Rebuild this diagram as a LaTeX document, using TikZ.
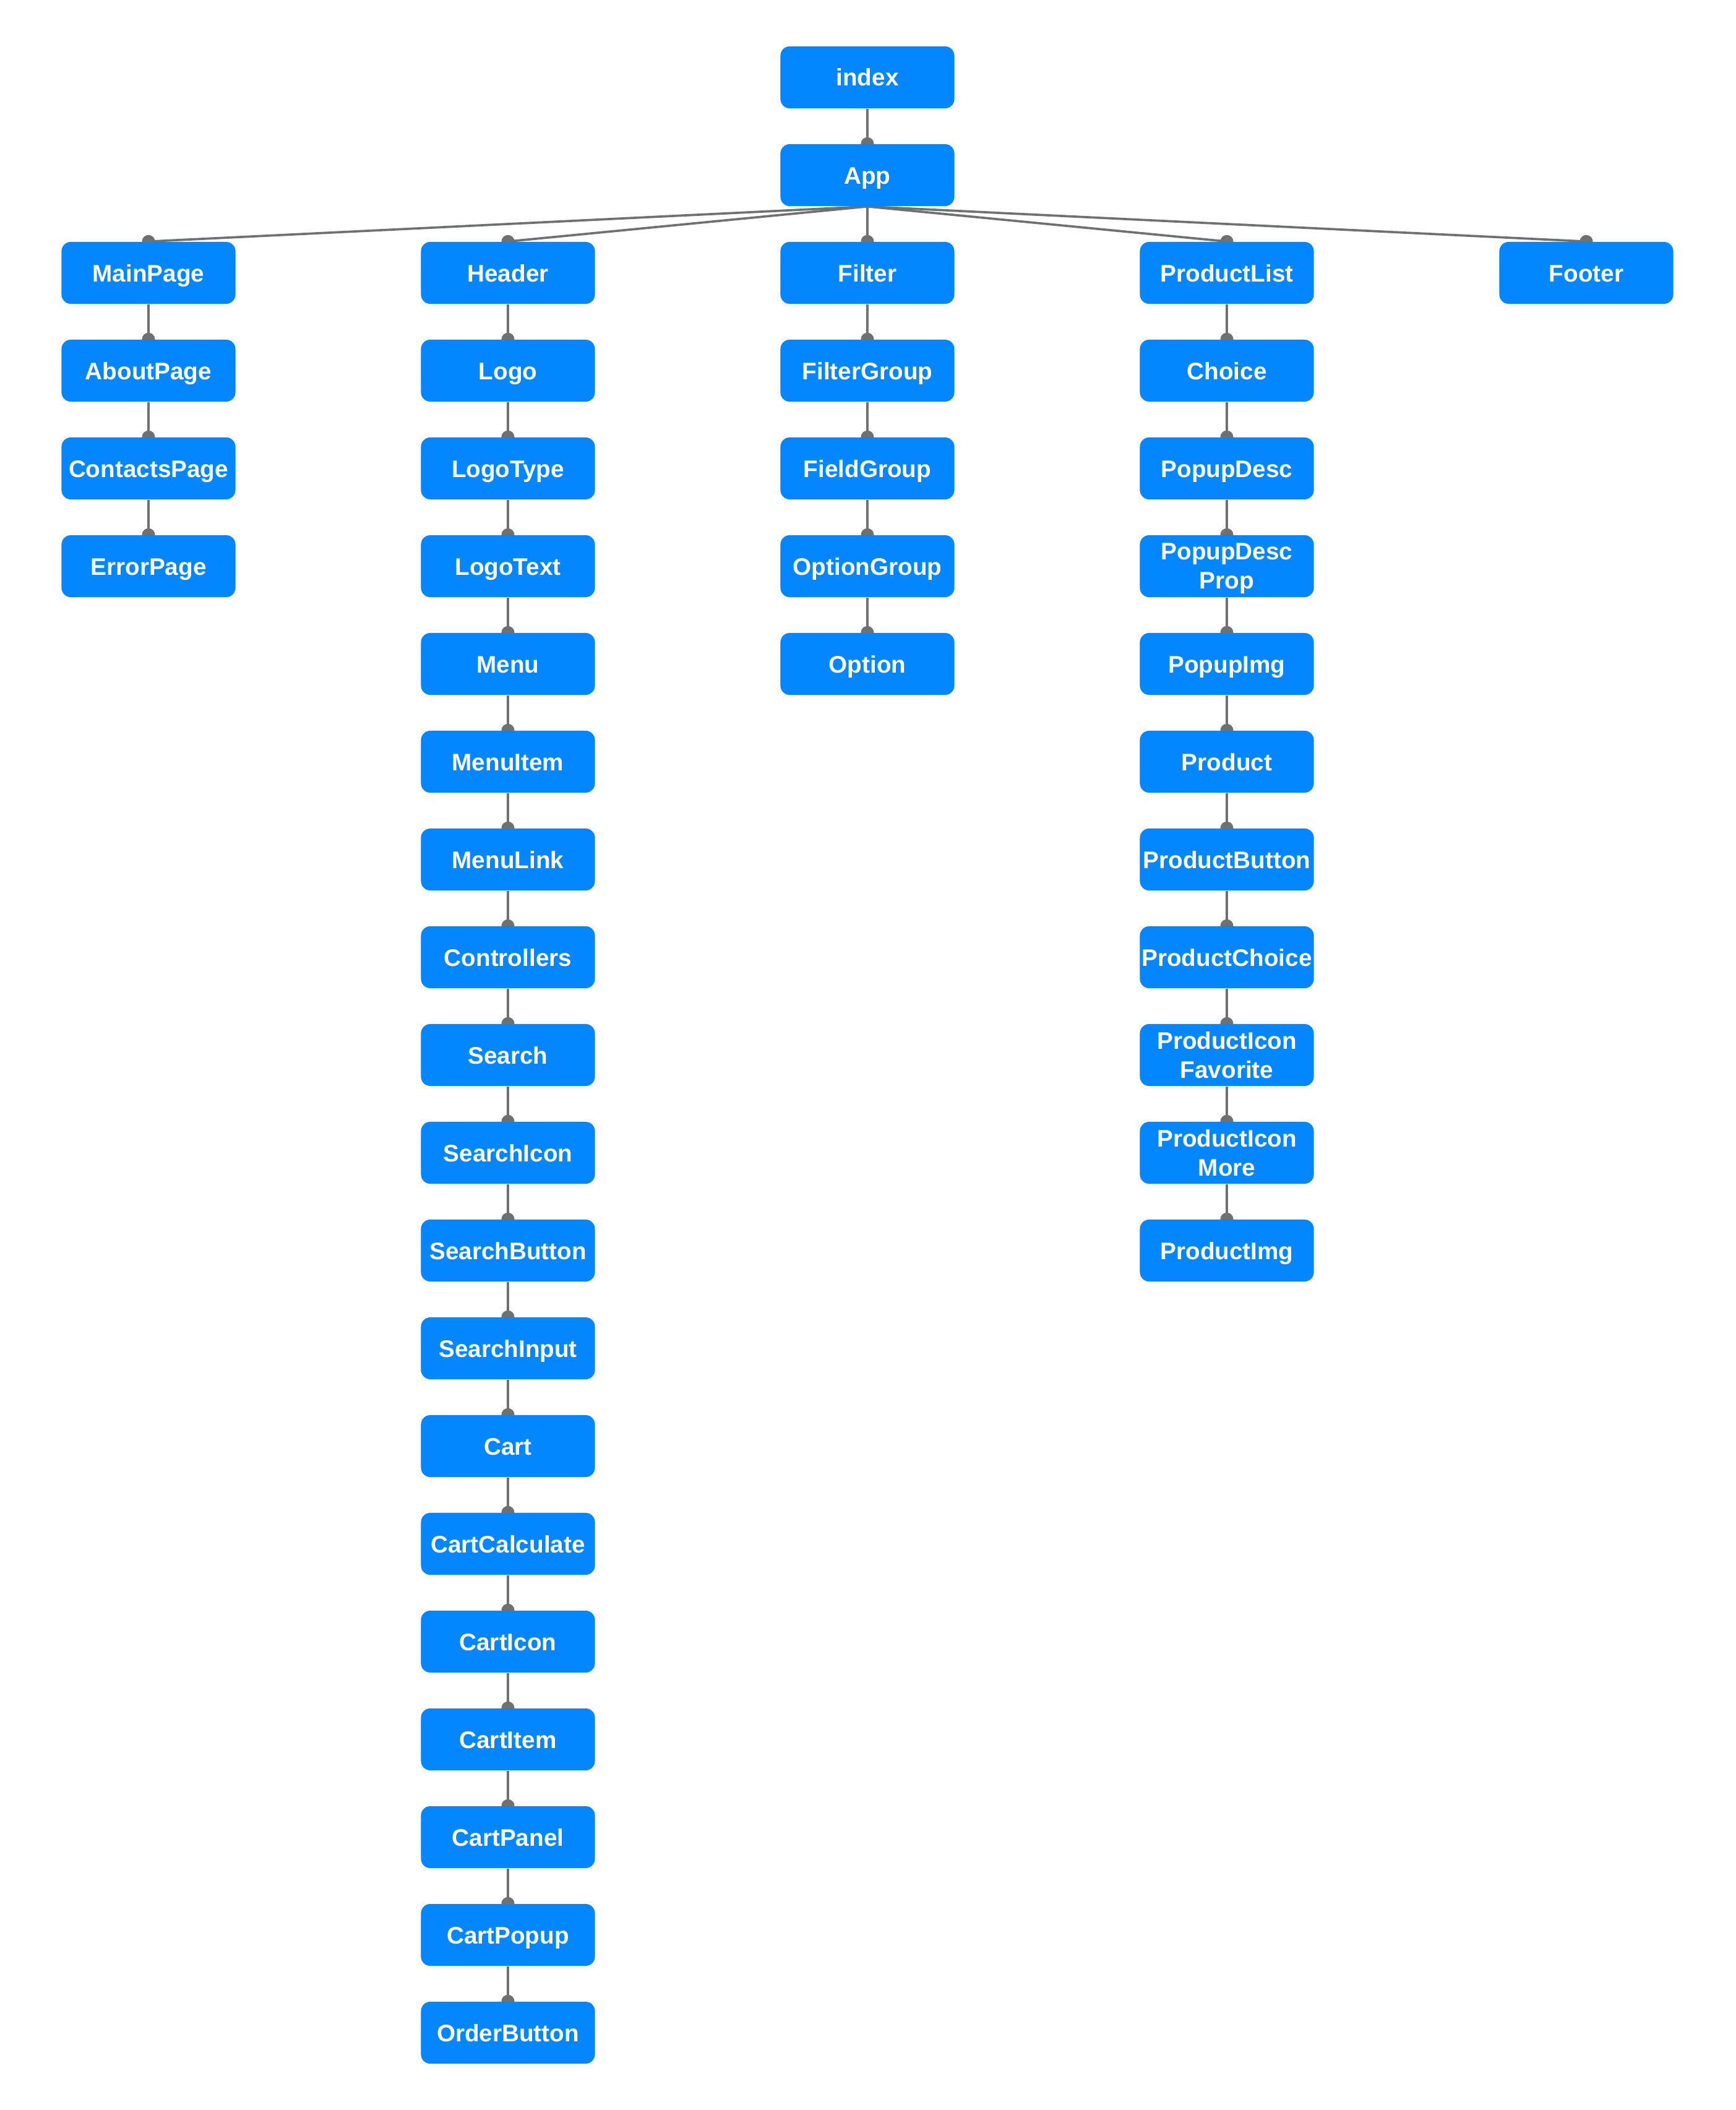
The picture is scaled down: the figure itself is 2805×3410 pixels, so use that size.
\documentclass[tikz,border=0pt]{standalone}
\usepackage{fontspec}
\setmainfont{Liberation Sans}
\usetikzlibrary{backgrounds}
\definecolor{boxblue}{RGB}{3,134,255}
\definecolor{linkgray}{RGB}{112,112,112}
\tikzset{
  comp/.style={fill=boxblue, text=white, rounded corners=0.15cm,
    minimum width=2.81cm, minimum height=1cm, inner sep=0pt, align=center,
    text height=0.28cm, text depth=0pt,
    font=\bfseries\fontsize{11}{13.4}\selectfont},
  comptwo/.style={comp, text height=, text depth=0pt},
  link/.style={draw=linkgray, line width=1.05pt},
}
% parent -> child connector with a round joint at the child's top edge
\newcommand\linkto[2]{%
  \begin{pgfonlayer}{background}
    \draw[link] (#1.south) -- (#2.north);
    \fill[linkgray] (#2.north) circle (0.105cm);
  \end{pgfonlayer}}
\begin{document}
\begin{tikzpicture}[x=0.01cm,y=-0.01cm]
\useasboundingbox (0,0) rectangle (2805,3410);

% root
\node[comp] (index) at (1402,125) {index};
\node[comp] (app)   at (1402,283) {App};

% pages column
\node[comp] (mainpage)     at (240,441) {MainPage};
\node[comp] (aboutpage)    at (240,599) {AboutPage};
\node[comp] (contactspage) at (240,757) {ContactsPage};
\node[comp] (errorpage)    at (240,915) {ErrorPage};

% header column
\node[comp] (header)        at (821,441)  {Header};
\node[comp] (logo)          at (821,599)  {Logo};
\node[comp] (logotype)      at (821,757)  {LogoType};
\node[comp] (logotext)      at (821,915)  {LogoText};
\node[comp] (menu)          at (821,1073) {Menu};
\node[comp] (menuitem)      at (821,1231) {MenuItem};
\node[comp] (menulink)      at (821,1389) {MenuLink};
\node[comp] (controllers)   at (821,1547) {Controllers};
\node[comp] (search)        at (821,1705) {Search};
\node[comp] (searchicon)    at (821,1863) {SearchIcon};
\node[comp] (searchbutton)  at (821,2021) {SearchButton};
\node[comp] (searchinput)   at (821,2179) {SearchInput};
\node[comp] (cart)          at (821,2337) {Cart};
\node[comp] (cartcalculate) at (821,2495) {CartCalculate};
\node[comp] (carticon)      at (821,2653) {CartIcon};
\node[comp] (cartitem)      at (821,2811) {CartItem};
\node[comp] (cartpanel)     at (821,2969) {CartPanel};
\node[comp] (cartpopup)     at (821,3127) {CartPopup};
\node[comp] (orderbutton)   at (821,3285) {OrderButton};

% filter column
\node[comp] (filter)      at (1402,441)  {Filter};
\node[comp] (filtergroup) at (1402,599)  {FilterGroup};
\node[comp] (fieldgroup)  at (1402,757)  {FieldGroup};
\node[comp] (optiongroup) at (1402,915)  {OptionGroup};
\node[comp] (option)      at (1402,1073) {Option};

% product list column
\node[comp] (productlist)   at (1983,441)  {ProductList};
\node[comp] (choice)        at (1983,599)  {Choice};
\node[comp] (popupdesc)     at (1983,757)  {PopupDesc};
\node[comptwo] (popupdescprop) at (1983,915)  {PopupDesc\\Prop};
\node[comp] (popupimg)      at (1983,1073) {PopupImg};
\node[comp] (product)       at (1983,1231) {Product};
\node[comp] (productbutton) at (1983,1389) {ProductButton};
\node[comp] (productchoice) at (1983,1547) {ProductChoice};
\node[comptwo] (iconfavorite)  at (1983,1705) {ProductIcon\\Favorite};
\node[comptwo] (iconmore)      at (1983,1863) {ProductIcon\\More};
\node[comp] (productimg)    at (1983,2021) {ProductImg};

% footer
\node[comp] (footer) at (2564,441) {Footer};

% connectors
\linkto{index}{app}
\linkto{app}{mainpage}
\linkto{app}{header}
\linkto{app}{filter}
\linkto{app}{productlist}
\linkto{app}{footer}

\linkto{mainpage}{aboutpage}
\linkto{aboutpage}{contactspage}
\linkto{contactspage}{errorpage}

\linkto{header}{logo}
\linkto{logo}{logotype}
\linkto{logotype}{logotext}
\linkto{logotext}{menu}
\linkto{menu}{menuitem}
\linkto{menuitem}{menulink}
\linkto{menulink}{controllers}
\linkto{controllers}{search}
\linkto{search}{searchicon}
\linkto{searchicon}{searchbutton}
\linkto{searchbutton}{searchinput}
\linkto{searchinput}{cart}
\linkto{cart}{cartcalculate}
\linkto{cartcalculate}{carticon}
\linkto{carticon}{cartitem}
\linkto{cartitem}{cartpanel}
\linkto{cartpanel}{cartpopup}
\linkto{cartpopup}{orderbutton}

\linkto{filter}{filtergroup}
\linkto{filtergroup}{fieldgroup}
\linkto{fieldgroup}{optiongroup}
\linkto{optiongroup}{option}

\linkto{productlist}{choice}
\linkto{choice}{popupdesc}
\linkto{popupdesc}{popupdescprop}
\linkto{popupdescprop}{popupimg}
\linkto{popupimg}{product}
\linkto{product}{productbutton}
\linkto{productbutton}{productchoice}
\linkto{productchoice}{iconfavorite}
\linkto{iconfavorite}{iconmore}
\linkto{iconmore}{productimg}
\end{tikzpicture}
\end{document}
